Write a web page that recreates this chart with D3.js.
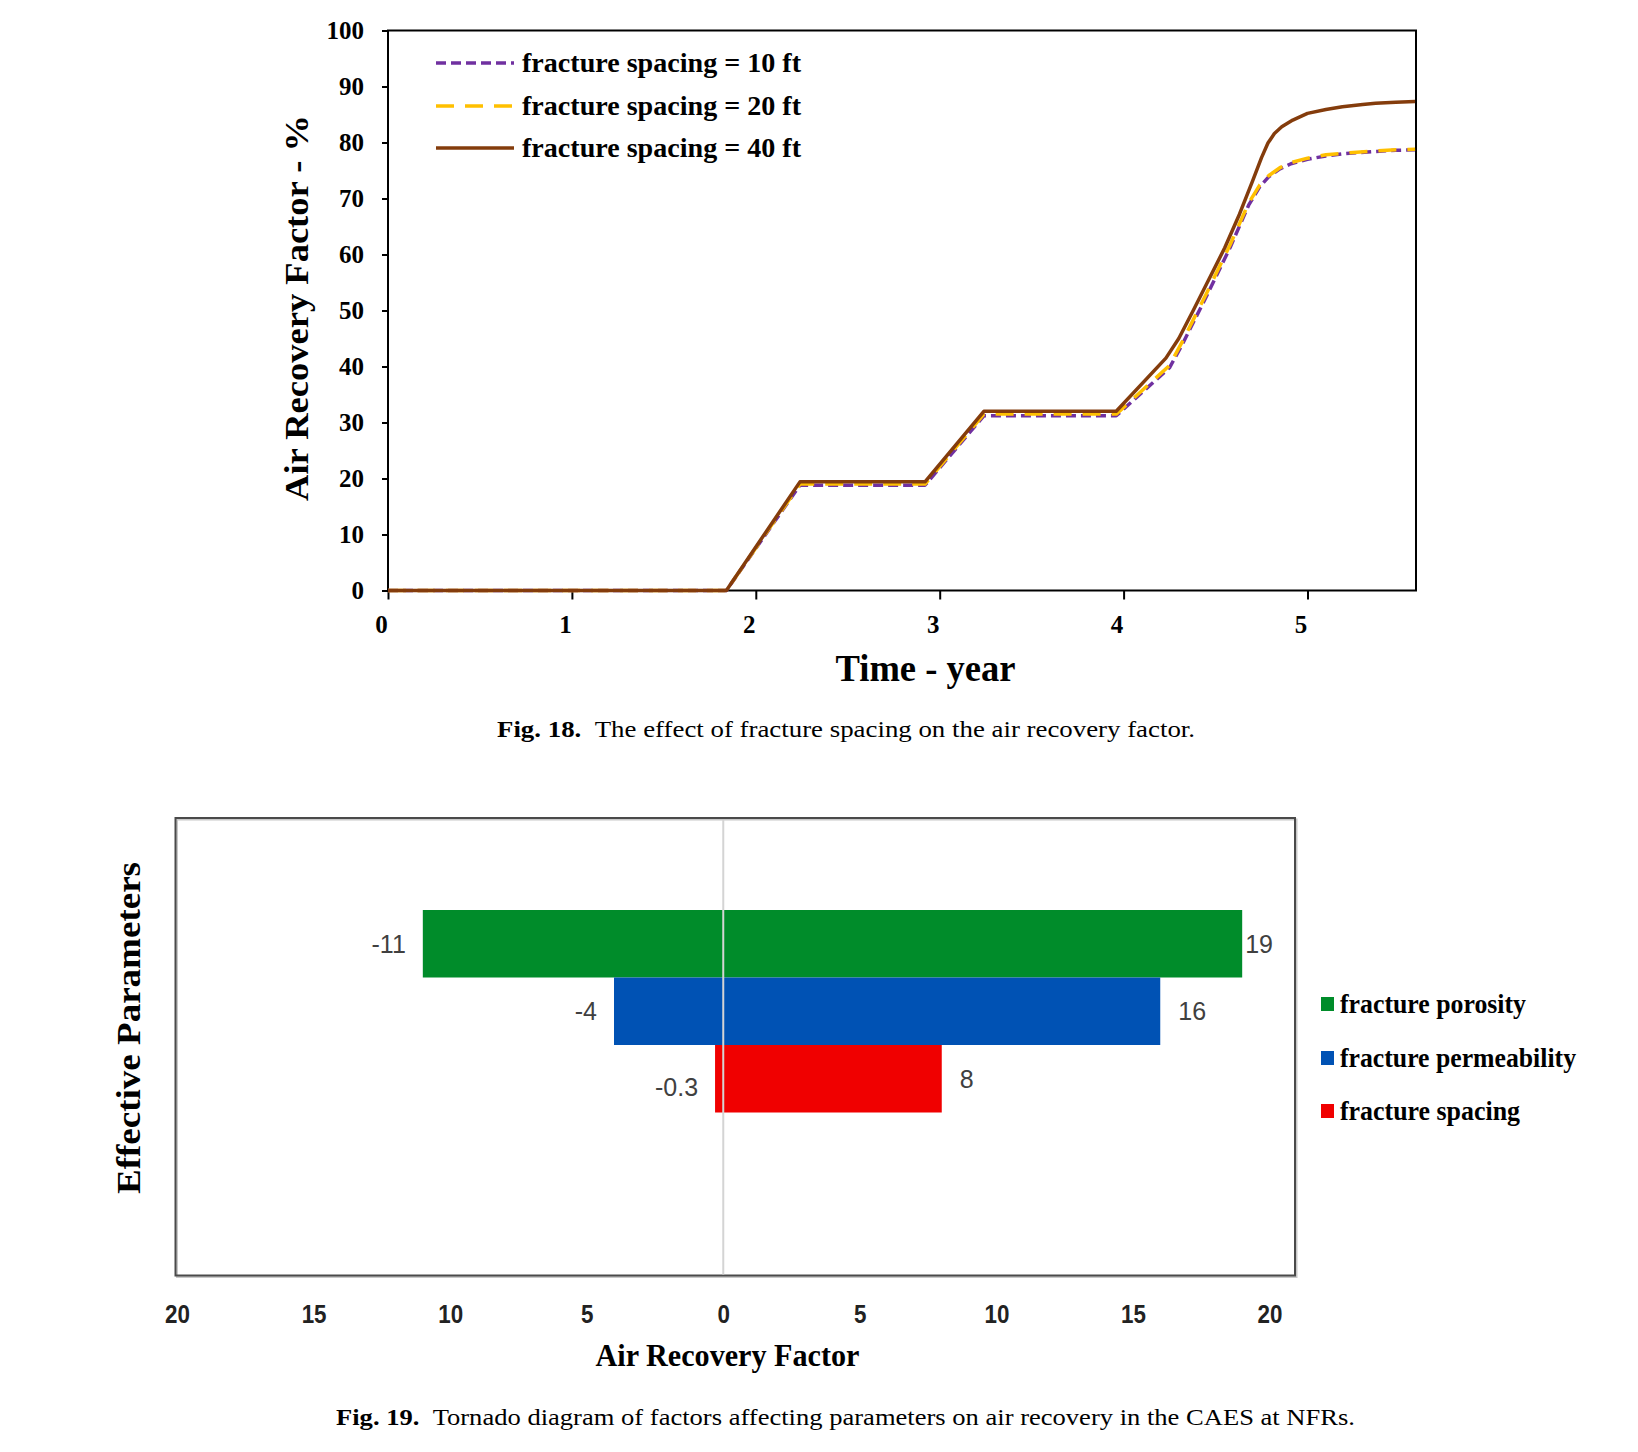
<!DOCTYPE html>
<html>
<head>
<meta charset="utf-8">
<script src="https://cdn.jsdelivr.net/npm/d3@7"></script>
<style>
  html, body { margin: 0; padding: 0; background: #ffffff; }
  svg { display: block; }
</style>
</head>
<body>
<svg id="chart" width="1638" height="1452"></svg>
<script>
// ---------------- Fig. 18 data ----------------
const timeTicks = [0, 1, 2, 3, 4, 5];
const rfTicks = [0, 10, 20, 30, 40, 50, 60, 70, 80, 90, 100];

const t40 = [0, 1.84, 2.24, 2.92, 3.24, 3.96, 4.23, 4.30, 4.38, 4.46, 4.55, 4.63, 4.70, 4.75, 4.785, 4.82, 4.86, 4.92, 5.0, 5.1, 5.19, 5.3, 5.37, 5.48, 5.585];
const rf40 = [0, 0, 19.4, 19.4, 32.0, 32.0, 41.5, 45.0, 50.1, 55.3, 61.2, 67.2, 73.0, 77.3, 79.9, 81.6, 82.8, 84.0, 85.2, 85.9, 86.4, 86.8, 87.0, 87.2, 87.3];

const t20 = [0, 1.84, 2.24, 2.92, 3.24, 3.96, 4.25, 4.32, 4.45, 4.58, 4.68, 4.74, 4.79, 4.85, 4.91, 5.0, 5.1, 5.2, 5.37, 5.48, 5.585];
const rf20 = [0, 0, 19.0, 19.0, 31.5, 31.5, 40.2, 44.5, 53.0, 61.8, 69.2, 72.4, 74.1, 75.5, 76.4, 77.2, 77.8, 78.1, 78.5, 78.7, 78.8];

const t10 = [0, 1.84, 2.24, 2.92, 3.24, 3.96, 4.25, 4.32, 4.45, 4.58, 4.68, 4.74, 4.79, 4.85, 4.91, 5.0, 5.1, 5.2, 5.37, 5.48, 5.585];
const rf10 = [0, 0, 18.8, 18.8, 31.2, 31.2, 39.8, 44.0, 52.5, 61.3, 68.8, 72.1, 73.9, 75.3, 76.2, 77.0, 77.6, 78.0, 78.4, 78.6, 78.7];

const seriesNames = ["fracture spacing = 10 ft", "fracture spacing = 20 ft", "fracture spacing = 40 ft"];

// ---------------- Fig. 19 data ----------------
const params = ["fracture porosity", "fracture permeability", "fracture spacing"];
const lowValues = [-11, -4, -0.3];
const highValues = [19, 16, 8];
const lowLabels = ["-11", "-4", "-0.3"];
const highLabels = ["19", "16", "8"];
const arfTicks = [-20, -15, -10, -5, 0, 5, 10, 15, 20];

// ---------------- styles ----------------
const SERIF = "'Liberation Serif', 'Times New Roman', serif";
const NARROW = "'Liberation Sans Narrow', 'Arial Narrow', 'Liberation Sans', sans-serif";
const lineStyles = [
  { color: "#7030A0", dash: "10,5" },
  { color: "#FFC000", dash: "18,11" },
  { color: "#843C0C", dash: null }
];
const barColors = ["#008C2A", "#0052B4", "#F00000"];

const svg = d3.select("#chart");

// ================= Fig. 18 =================
const x = d3.scaleLinear().domain([0, 5.59]).range([388, 1416]);
const y = d3.scaleLinear().domain([0, 100]).range([590.5, 30.5]);

const g1 = svg.append("g");

// y axis
const yAxis = g1.append("g")
  .attr("transform", `translate(${x(0)},0)`)
  .call(d3.axisLeft(y).tickValues(rfTicks).tickSize(6).tickSizeOuter(0).tickPadding(18).tickFormat(d3.format("d")));
yAxis.select(".domain").remove();
yAxis.selectAll(".tick line").attr("stroke", "#000").attr("stroke-width", 2);
yAxis.selectAll(".tick text")
  .attr("font-family", SERIF).attr("font-weight", "bold").attr("font-size", 25).attr("fill", "#000");

// x axis
const xAxis = g1.append("g")
  .attr("transform", `translate(0,${y(0)})`)
  .call(d3.axisBottom(x).tickValues(timeTicks).tickSize(9).tickSizeOuter(0).tickFormat(d3.format("d")));
xAxis.select(".domain").remove();
xAxis.selectAll(".tick line").attr("stroke", "#000").attr("stroke-width", 2);
xAxis.selectAll(".tick text")
  .attr("font-family", SERIF).attr("font-weight", "bold").attr("font-size", 25).attr("fill", "#000")
  .attr("y", 34).attr("dy", "0.35em").attr("dx", -7);

// frame
g1.append("rect")
  .attr("x", x(0)).attr("y", y(100))
  .attr("width", x(5.59) - x(0)).attr("height", y(0) - y(100))
  .attr("fill", "none").attr("stroke", "#000").attr("stroke-width", 2);

// lines
const lineGen = d3.line().x(d => x(d[0])).y(d => y(d[1]));
const seriesData = [
  d3.zip(t10, rf10),
  d3.zip(t20, rf20),
  d3.zip(t40, rf40)
];
seriesData.forEach((data, i) => {
  g1.append("path")
    .datum(data)
    .attr("d", lineGen)
    .attr("fill", "none")
    .attr("stroke", lineStyles[i].color)
    .attr("stroke-width", 3.5)
    .attr("stroke-dasharray", lineStyles[i].dash)
    .attr("stroke-linejoin", "round");
});

// legend
const legY = [63, 106, 148];
seriesNames.forEach((name, i) => {
  g1.append("line")
    .attr("x1", 436).attr("x2", 514).attr("y1", legY[i]).attr("y2", legY[i])
    .attr("stroke", lineStyles[i].color).attr("stroke-width", 3.5)
    .attr("stroke-dasharray", lineStyles[i].dash);
  g1.append("text")
    .attr("x", 522).attr("y", legY[i]).attr("dy", "0.32em")
    .attr("font-family", SERIF).attr("font-weight", "bold").attr("font-size", 27)
    .attr("textLength", 279).attr("lengthAdjust", "spacingAndGlyphs")
    .text(name);
});

// axis titles
g1.append("text")
  .attr("transform", "translate(296,308) rotate(-90)")
  .attr("text-anchor", "middle").attr("dy", "0.35em")
  .attr("font-family", SERIF).attr("font-weight", "bold").attr("font-size", 34)
  .attr("textLength", 386).attr("lengthAdjust", "spacingAndGlyphs")
  .text("Air Recovery Factor - %");

g1.append("text")
  .attr("x", 925.5).attr("y", 668).attr("text-anchor", "middle").attr("dy", "0.35em")
  .attr("font-family", SERIF).attr("font-weight", "bold").attr("font-size", 37)
  .attr("textLength", 180).attr("lengthAdjust", "spacingAndGlyphs")
  .text("Time - year");

// caption
const cap1 = g1.append("text")
  .attr("x", 846).attr("y", 729).attr("text-anchor", "middle").attr("dy", "0.35em")
  .attr("font-family", SERIF).attr("font-size", 23).attr("fill", "#000")
  .attr("textLength", 698).attr("lengthAdjust", "spacingAndGlyphs");
cap1.append("tspan").attr("font-weight", "bold").text("Fig. 18.");
cap1.append("tspan").text("\u2002The effect of fracture spacing on the air recovery factor.");

// ================= Fig. 19 =================
const xT = d3.scaleLinear().domain([-20, 20]).range([177, 1269.5]);
const yT = d3.scaleBand().domain(params).range([910, 1112.5]).padding(0);
const g2 = svg.append("g");

// frame with soft shadow
const fx0 = 175.5, fx1 = 1295, fy0 = 818, fy1 = 1275.5;
g2.append("rect")
  .attr("x", fx0 + 1.5).attr("y", fy0 + 1.5).attr("width", fx1 - fx0).attr("height", fy1 - fy0)
  .attr("fill", "none").attr("stroke", "#c8c8c8").attr("stroke-width", 2);
g2.append("rect")
  .attr("x", fx0).attr("y", fy0).attr("width", fx1 - fx0).attr("height", fy1 - fy0)
  .attr("fill", "none").attr("stroke", "#4a4a4a").attr("stroke-width", 2);

// bars
g2.selectAll("rect.bar")
  .data(params)
  .enter().append("rect")
  .attr("class", "bar")
  .attr("x", (d, i) => xT(lowValues[i]))
  .attr("y", d => yT(d))
  .attr("width", (d, i) => xT(highValues[i]) - xT(lowValues[i]))
  .attr("height", yT.bandwidth())
  .attr("fill", (d, i) => barColors[i]);

// zero line
g2.append("line")
  .attr("x1", xT(0)).attr("x2", xT(0)).attr("y1", fy0 + 2).attr("y2", fy1 - 1)
  .attr("stroke", "#d4d4d4").attr("stroke-width", 2);

// value labels
const labelDy = [0, 0, 8];
g2.selectAll("text.low")
  .data(params).enter().append("text")
  .attr("class", "low")
  .attr("x", (d, i) => xT(lowValues[i]) - 17)
  .attr("y", (d, i) => yT(d) + yT.bandwidth() / 2 + labelDy[i])
  .attr("dy", "0.35em").attr("text-anchor", "end")
  .attr("font-family", NARROW).attr("font-size", 25).attr("fill", "#404040")
  .text((d, i) => lowLabels[i]);
g2.selectAll("text.high")
  .data(params).enter().append("text")
  .attr("class", "high")
  .attr("x", (d, i) => xT(highValues[i]) + (i === 0 ? 3 : 18))
  .attr("y", d => yT(d) + yT.bandwidth() / 2)
  .attr("dy", "0.35em").attr("text-anchor", "start")
  .attr("font-family", NARROW).attr("font-size", 25).attr("fill", "#404040")
  .text((d, i) => highLabels[i]);

// x axis ticks (absolute values)
const tAxis = g2.append("g")
  .attr("transform", `translate(0,${fy1})`)
  .call(d3.axisBottom(xT).tickValues(arfTicks).tickSize(0).tickFormat(d => Math.abs(d)));
tAxis.select(".domain").remove();
tAxis.selectAll(".tick text")
  .attr("y", 38).attr("dy", "0.35em")
  .attr("font-family", NARROW).attr("font-weight", "bold").attr("font-size", 26).attr("fill", "#222")
  .each(function () {
    const w = this.getComputedTextLength();
    d3.select(this).attr("textLength", w * 0.86).attr("lengthAdjust", "spacingAndGlyphs");
  });

// axis titles
g2.append("text")
  .attr("x", 727.5).attr("y", 1355).attr("text-anchor", "middle").attr("dy", "0.35em")
  .attr("font-family", SERIF).attr("font-weight", "bold").attr("font-size", 31)
  .attr("textLength", 264).attr("lengthAdjust", "spacingAndGlyphs")
  .text("Air Recovery Factor");

g2.append("text")
  .attr("transform", "translate(128.5,1028) rotate(-90)")
  .attr("text-anchor", "middle").attr("dy", "0.35em")
  .attr("font-family", SERIF).attr("font-weight", "bold").attr("font-size", 34)
  .attr("textLength", 332).attr("lengthAdjust", "spacingAndGlyphs")
  .text("Effective Parameters");

// legend
const legRowY = [1004, 1058, 1111];
const legWidths = [186, 236, 180];
params.forEach((p, i) => {
  g2.append("rect")
    .attr("x", 1321).attr("y", legRowY[i] - 7).attr("width", 13).attr("height", 14)
    .attr("fill", barColors[i]);
  g2.append("text")
    .attr("x", 1340).attr("y", legRowY[i]).attr("dy", "0.32em")
    .attr("font-family", SERIF).attr("font-weight", "bold").attr("font-size", 27)
    .attr("textLength", legWidths[i]).attr("lengthAdjust", "spacingAndGlyphs")
    .text(p);
});

// caption
const cap2 = g2.append("text")
  .attr("x", 845.5).attr("y", 1416.5).attr("text-anchor", "middle").attr("dy", "0.35em")
  .attr("font-family", SERIF).attr("font-size", 23).attr("fill", "#000")
  .attr("textLength", 1019).attr("lengthAdjust", "spacingAndGlyphs");
cap2.append("tspan").attr("font-weight", "bold").text("Fig. 19.");
cap2.append("tspan").text("\u2002Tornado diagram of factors affecting parameters on air recovery in the CAES at NFRs.");
</script>
</body>
</html>
